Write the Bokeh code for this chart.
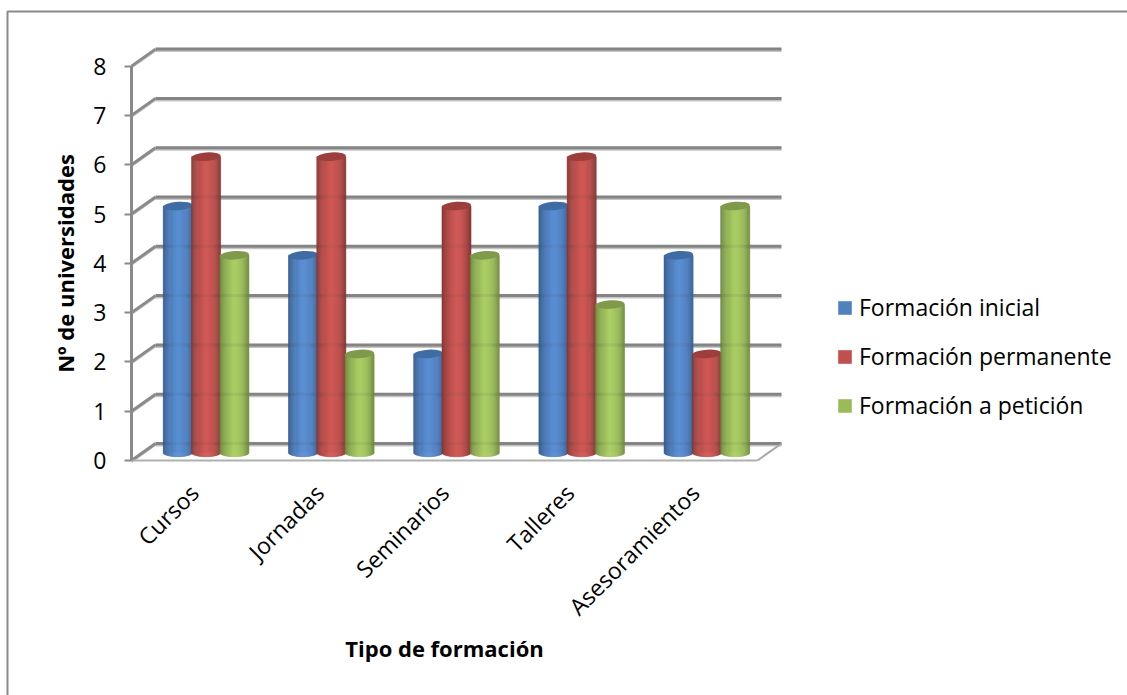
from bokeh.embed import file_html
from bokeh.resources import INLINE
from bokeh.models import BoxAnnotation, FixedTicker, Legend, LegendItem, Range1d
from bokeh.plotting import figure
import numpy as np

# Survey counts per training type
categories = ["Cursos", "Jornadas", "Seminarios", "Talleres", "Asesoramientos"]
formacion_inicial = [5, 4, 2, 5, 4]
formacion_permanente = [6, 6, 5, 6, 2]
formacion_peticion = [4, 2, 4, 3, 5]
y_ticks = [0, 1, 2, 3, 4, 5, 6, 7, 8]

series_names = ["Formación inicial", "Formación permanente", "Formación a petición"]
series_values = [formacion_inicial, formacion_permanente, formacion_peticion]
swatches = ["#4f81bd", "#c0504d", "#9bbb59"]
# (edge, lit centre, far edge, cap) for the cylinder shading
shades = [
    ("#2c5180", "#5b8fd3", "#3a6298", "#3f6da3"),
    ("#7a2f2d", "#d05a57", "#853533", "#9c3f3c"),
    ("#5f7a35", "#abce65", "#6f8b40", "#7f9a4a"),
]

FONT = "Open Sans"
AXIS_GREY = "#8a8a8a"
SHADOW_GREY = "#c4c4c4"

# Page size and where the origin of the value axes sits on it
PAGE_W, PAGE_H = 1127, 695
ORIGIN_X, ORIGIN_Y = 131, 460
PX_X = 125.2
PX_Y = 49.3

# 3D projection of the chart box
WALL_DX = 24 / PX_X
WALL_DY = 17 / PX_Y
BAR_DX = 12 / PX_X
BAR_DY = 8 / PX_Y
BAR_PITCH = 28.3 / PX_X
BAR_W = 29 / PX_X
CAP_H = 8.5 / PX_Y


def hex_rgb(h):
    return np.array([int(h[i:i + 2], 16) for i in (1, 3, 5)], float)


def shade(t, left, mid, right):
    # t in [0, 1] across the cylinder, brightest a little left of the middle
    peak = 0.48
    if t < peak:
        k = (t / peak) ** 0.55
        c = hex_rgb(left) * (1 - k) + hex_rgb(mid) * k
    else:
        k = ((t - peak) / (1 - peak)) ** 2.2
        c = hex_rgb(mid) * (1 - k) + hex_rgb(right) * k
    return "#%02x%02x%02x" % tuple(int(round(v)) for v in c)


p = figure(
    width=PAGE_W, height=PAGE_H,
    x_range=Range1d(-ORIGIN_X / PX_X, (PAGE_W - ORIGIN_X) / PX_X),
    y_range=Range1d(-(PAGE_H - ORIGIN_Y) / PX_Y, ORIGIN_Y / PX_Y),
    min_border=0,
    output_backend="svg", toolbar_location=None,
    background_fill_color="white", border_fill_color="white",
)
p.outline_line_color = None
p.grid.visible = False

# Outer chart border, running off the page on the right and at the bottom
p.add_layout(BoxAnnotation(
    left=7, right=1140, top=11, bottom=720,
    left_units="canvas", right_units="canvas", top_units="canvas", bottom_units="canvas",
    fill_color=None, line_color=AXIS_GREY, line_alpha=1, line_width=2, level="underlay",
))

# Back wall lines and the diagonal floor/side connectors
tv = np.array(y_ticks, float)
wall_x0 = np.full(len(tv), WALL_DX)
wall_x1 = np.full(len(tv), 5 + WALL_DX)
p.segment(wall_x0, tv + WALL_DY - 2 / PX_Y, wall_x1, tv + WALL_DY - 2 / PX_Y,
          line_color=SHADOW_GREY, line_width=2)
p.segment(wall_x0, tv + WALL_DY, wall_x1, tv + WALL_DY,
          line_color=AXIS_GREY, line_width=3)
p.segment(np.zeros(len(tv)), tv - 1.5 / PX_Y, wall_x0, tv + WALL_DY - 1.5 / PX_Y,
          line_color=SHADOW_GREY, line_width=2)
p.segment(np.zeros(len(tv)), tv, wall_x0, tv + WALL_DY,
          line_color=AXIS_GREY, line_width=3)
p.segment([5], [0], [5 + WALL_DX], [WALL_DY], line_color="#a6a6a6", line_width=2)

# Cylinders: a flat bar for the legend, vertical strips for the shading, then the cap
STRIPS = 29
edges = np.linspace(-1, 1, STRIPS + 1)
legend_items = []
for s, values in enumerate(series_values):
    left, right, bottom, top, colors = [], [], [], [], []
    cap_x, cap_y = [], []
    for c, v in enumerate(values):
        cx = c + 0.5 + BAR_DX + (s - 1) * BAR_PITCH
        cap_x.append(cx)
        cap_y.append(v + BAR_DY)
        for a, b in zip(edges[:-1], edges[1:]):
            m = (a + b) / 2
            left.append(cx + a * BAR_W / 2)
            right.append(cx + b * BAR_W / 2)
            bottom.append(BAR_DY - CAP_H / 2 * np.sqrt(max(0, 1 - m * m)))
            top.append(v + BAR_DY)
            colors.append(shade((m + 1) / 2, shades[s][0], shades[s][1], shades[s][2]))
    flat = p.quad(left=np.array(cap_x) - BAR_W / 4, right=np.array(cap_x) + BAR_W / 4,
                  bottom=BAR_DY, top=np.array(cap_y),
                  fill_color=swatches[s], line_color=None)
    legend_items.append(LegendItem(label=series_names[s], renderers=[flat]))
    p.quad(left=left, right=right, bottom=bottom, top=top,
           fill_color=colors, line_color=colors, line_width=0.6)
    p.ellipse(cap_x, cap_y, width=BAR_W, height=CAP_H, angle=0.07,
              fill_color=shades[s][3], line_color=None)

# Gridlines show faintly through the cylinders
p.segment(wall_x0, tv + WALL_DY, wall_x1, tv + WALL_DY,
          line_color="#555555", line_width=3, line_alpha=0.1)

# Axes sit at the data origin inside the page-sized frame
yax = p.yaxis[0]
yax.fixed_location = 0
yax.ticker = FixedTicker(ticks=y_ticks)
yax.bounds = (0, 8)
yax.axis_line_color = AXIS_GREY
yax.axis_line_width = 3
yax.major_tick_line_color = AXIS_GREY
yax.major_tick_line_width = 2
yax.major_tick_in = 0
yax.major_tick_out = 7
yax.minor_tick_line_color = None
yax.major_label_text_font = FONT
yax.major_label_text_font_size = "23px"
yax.major_label_text_color = "black"
yax.major_label_standoff = 18
yax.axis_label = "Nº de universidades"
yax.axis_label_text_font = FONT
yax.axis_label_text_font_style = "bold"
yax.axis_label_text_font_size = "22px"
yax.axis_label_text_color = "black"
yax.axis_label_standoff = 10

xax = p.xaxis[0]
xax.fixed_location = 0
xax.ticker = FixedTicker(ticks=[i + 0.5 for i in range(len(categories))])
xax.major_label_overrides = {i + 0.5: name for i, name in enumerate(categories)}
xax.bounds = (0, 5)
xax.axis_line_color = "#b0b0b0"
xax.axis_line_width = 2
xax.major_tick_line_color = None
xax.minor_tick_line_color = None
xax.major_label_orientation = np.pi / 4
xax.major_label_text_font = FONT
xax.major_label_text_font_size = "23px"
xax.major_label_text_color = "black"
xax.major_label_standoff = 22
xax.axis_label = "Tipo de formación"
xax.axis_label_text_font = FONT
xax.axis_label_text_font_style = "bold"
xax.axis_label_text_font_size = "22px"
xax.axis_label_text_color = "black"
xax.axis_label_standoff = -3

legend = Legend(
    items=legend_items, location=(836, 274), orientation="vertical",
    glyph_width=17, glyph_height=17, label_height=24,
    spacing=17, padding=0, margin=0, label_standoff=6,
    label_text_font=FONT, label_text_font_size="23px", label_text_color="black",
    background_fill_alpha=0, border_line_color=None,
)
p.add_layout(legend)

open("out.html", "w").write(file_html(p, INLINE))
